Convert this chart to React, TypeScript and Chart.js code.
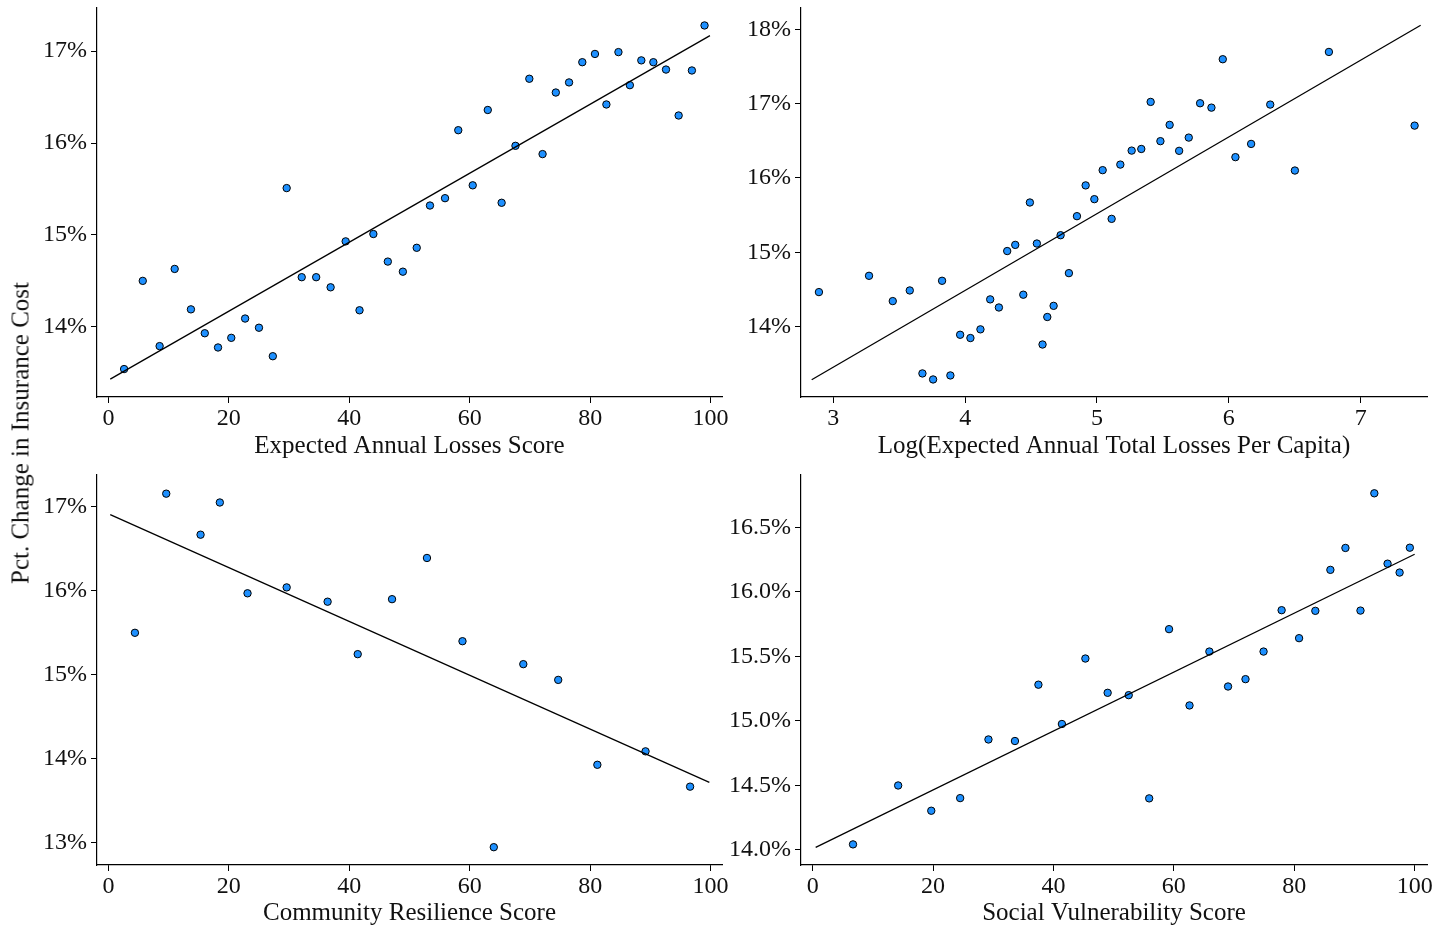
import React, { useEffect, useRef } from 'react';
import { Chart, registerables } from 'chart.js';

Chart.register(...registerables);

const FONT = "'Liberation Serif', 'Times New Roman', serif";
const TEXT_COLOR = '#111111';
const POINT_COLOR = '#1E90FF';

// ---------- Panel 1: Expected Annual Losses Score ----------
const p1X = [2.6, 5.7, 8.5, 11.0, 13.7, 16.0, 18.2, 20.4, 22.7, 25.0, 27.3, 29.6, 32.1, 34.5, 36.9, 39.4, 41.7, 44.0, 46.4, 48.9, 51.2, 53.4, 55.9, 58.1, 60.5, 63.0, 65.3, 67.6, 69.9, 72.1, 74.3, 76.5, 78.7, 80.8, 82.7, 84.7, 86.6, 88.5, 90.5, 92.6, 94.7, 96.9, 99.0];
const p1Y = [13.54, 14.50, 13.79, 14.63, 14.19, 13.93, 13.775, 13.88, 14.09, 13.99, 13.68, 15.51, 14.54, 14.54, 14.43, 14.93, 14.18, 15.01, 14.71, 14.60, 14.86, 15.32, 15.40, 16.14, 15.54, 16.36, 15.35, 15.97, 16.70, 15.88, 16.55, 16.66, 16.88, 16.97, 16.42, 16.99, 16.63, 16.90, 16.88, 16.80, 16.30, 16.79, 17.28];
const p1TrendX = [0.3, 99.9];
const p1TrendY = [13.43, 17.17];
const p1XTicks = [0, 20, 40, 60, 80, 100];
const p1YTicks = [14, 15, 16, 17];

// ---------- Panel 2: Log(Expected Annual Total Losses Per Capita) ----------
const p2X = [2.891, 3.271, 3.451, 3.580, 3.676, 3.757, 3.825, 3.888, 3.962, 4.040, 4.116, 4.190, 4.256, 4.319, 4.380, 4.441, 4.491, 4.544, 4.587, 4.623, 4.671, 4.724, 4.787, 4.848, 4.914, 4.980, 5.043, 5.111, 5.177, 5.263, 5.336, 5.407, 5.481, 5.551, 5.623, 5.696, 5.782, 5.868, 5.954, 6.050, 6.169, 6.314, 6.501, 6.759, 7.409];
const p2Y = [14.465, 14.684, 14.344, 14.487, 13.371, 13.29, 14.617, 13.344, 13.891, 13.847, 13.964, 14.367, 14.258, 15.017, 15.10, 14.43, 15.67, 15.118, 13.76, 14.13, 14.28, 15.23, 14.72, 15.486, 15.90, 15.715, 16.105, 15.45, 16.18, 16.368, 16.39, 17.023, 16.495, 16.714, 16.365, 16.543, 17.005, 16.946, 17.597, 16.28, 16.458, 16.987, 16.10, 17.695, 16.704];
const p2TrendX = [2.836, 7.455];
const p2TrendY = [13.286, 18.054];
const p2XTicks = [3, 4, 5, 6, 7];
const p2YTicks = [14, 15, 16, 17, 18];

// ---------- Panel 3: Community Resilience Score ----------
const p3X = [4.4, 9.6, 15.3, 18.5, 23.1, 29.6, 36.4, 41.4, 47.1, 52.9, 58.8, 64.0, 68.9, 74.7, 81.2, 89.2, 96.6];
const p3Y = [15.50, 17.155, 16.667, 17.05, 15.97, 16.04, 15.87, 15.246, 15.90, 16.39, 15.40, 12.95, 15.127, 14.94, 13.93, 14.09, 13.67];
const p3TrendX = [0.3, 99.8];
const p3TrendY = [16.905, 13.72];
const p3XTicks = [0, 20, 40, 60, 80, 100];
const p3YTicks = [13, 14, 15, 16, 17];

// ---------- Panel 4: Social Vulnerability Score ----------
const p4X = [6.7, 14.2, 19.7, 24.5, 29.2, 33.6, 37.5, 41.4, 45.3, 49.0, 52.5, 55.9, 59.2, 62.6, 65.9, 69.0, 71.9, 74.9, 77.9, 80.8, 83.5, 86.0, 88.5, 91.0, 93.3, 95.5, 97.5, 99.2];
const p4Y = [14.041, 14.498, 14.302, 14.40, 14.855, 14.843, 15.28, 14.975, 15.483, 15.217, 15.199, 14.398, 15.711, 15.119, 15.537, 15.266, 15.323, 15.537, 15.858, 15.641, 15.853, 16.171, 16.341, 15.855, 16.765, 16.219, 16.15, 16.343];
const p4TrendX = [0.5, 100];
const p4TrendY = [14.018, 16.292];
const p4XTicks = [0, 20, 40, 60, 80, 100];
const p4YTicks = [14.0, 14.5, 15.0, 15.5, 16.0, 16.5];

const Y_LABEL = 'Pct. Change in Insurance Cost';

type Panel = {
  title: string;
  xs: number[]; ys: number[]; tx: number[]; ty: number[];
  xTicks: number[]; yTicks: number[]; yDec: number;
  xMin: number; xMax: number; yMin: number; yMax: number;
  left: number; top: number; width: number; height: number;
  padTop: number; padRight: number; yWidth: number; xHeight: number; titlePad: number;
};

const panels: Panel[] = [
  {
    title: 'Expected Annual Losses Score', xs: p1X, ys: p1Y, tx: p1TrendX, ty: p1TrendY,
    xTicks: p1XTicks, yTicks: p1YTicks, yDec: 0,
    xMin: -1.9, xMax: 101.9, yMin: 13.236, yMax: 17.47,
    left: 0, top: 0, width: 745, height: 465, padTop: 8, padRight: 23, yWidth: 97, xHeight: 68, titlePad: 4,
  },
  {
    title: 'Log(Expected Annual Total Losses Per Capita)', xs: p2X, ys: p2Y, tx: p2TrendX, ty: p2TrendY,
    xTicks: p2XTicks, yTicks: p2YTicks, yDec: 0,
    xMin: 2.755, xMax: 7.503, yMin: 13.054, yMax: 18.286,
    left: 725, top: 0, width: 725, height: 465, padTop: 8, padRight: 23, yWidth: 76, xHeight: 68, titlePad: 4,
  },
  {
    title: 'Community Resilience Score', xs: p3X, ys: p3Y, tx: p3TrendX, ty: p3TrendY,
    xTicks: p3XTicks, yTicks: p3YTicks, yDec: 0,
    xMin: -1.9, xMax: 101.9, yMin: 12.738, yMax: 17.377,
    left: 0, top: 465, width: 745, height: 466, padTop: 10, padRight: 23, yWidth: 97, xHeight: 66, titlePad: 3,
  },
  {
    title: 'Social Vulnerability Score', xs: p4X, ys: p4Y, tx: p4TrendX, ty: p4TrendY,
    xTicks: p4XTicks, yTicks: p4YTicks, yDec: 1,
    xMin: -1.94, xMax: 102.05, yMin: 13.881, yMax: 16.907,
    left: 725, top: 465, width: 725, height: 466, padTop: 10, padRight: 23, yWidth: 76, xHeight: 66, titlePad: 3,
  },
];

function PanelChart({ p }: { p: Panel }) {
  const ref = useRef<HTMLCanvasElement | null>(null);
  useEffect(() => {
    if (!ref.current) return;
    const chart = new Chart(ref.current, {
      type: 'scatter',
      data: {
        datasets: [
          {
            type: 'line',
            data: p.tx.map((x, i) => ({ x, y: p.ty[i] })),
            borderColor: '#000000',
            borderWidth: 1.3,
            pointRadius: 0,
            fill: false,
            order: 0,
          } as any,
          {
            type: 'scatter',
            data: p.xs.map((x, i) => ({ x, y: p.ys[i] })),
            backgroundColor: POINT_COLOR,
            borderColor: '#000000',
            borderWidth: 1,
            pointRadius: 3.7,
            order: 1,
          },
        ],
      },
      options: {
        animation: false,
        responsive: false,
        maintainAspectRatio: false,
        devicePixelRatio: 1,
        layout: { padding: { top: p.padTop, right: p.padRight, left: 0, bottom: 0 } },
        plugins: { legend: { display: false }, tooltip: { enabled: false } },
        events: [],
        scales: {
          x: {
            type: 'linear',
            min: p.xMin,
            max: p.xMax,
            afterBuildTicks: (s: any) => { s.ticks = p.xTicks.map((v) => ({ value: v })); },
            afterFit: (s: any) => { s.height = p.xHeight; s.paddingLeft = 0; s.paddingRight = 0; },
            grid: { display: true, drawOnChartArea: false, drawTicks: true, tickLength: 6, tickColor: '#000', tickWidth: 1, color: '#000' },
            border: { display: true, color: '#000', width: 1.2 },
            ticks: { font: { family: FONT, size: 24 }, color: TEXT_COLOR, padding: 1, maxRotation: 0, autoSkip: false, callback: (v: any) => String(v) },
            title: { display: true, text: p.title, font: { family: FONT, size: 25 }, color: TEXT_COLOR, padding: { top: 0, bottom: p.titlePad } },
          },
          y: {
            type: 'linear',
            min: p.yMin,
            max: p.yMax,
            afterBuildTicks: (s: any) => { s.ticks = p.yTicks.map((v) => ({ value: v })); },
            afterFit: (s: any) => { s.width = p.yWidth; s.paddingTop = 0; s.paddingBottom = 0; },
            grid: { display: true, drawOnChartArea: false, drawTicks: true, tickLength: 6, tickColor: '#000', tickWidth: 1, color: '#000' },
            border: { display: true, color: '#000', width: 1.2 },
            ticks: { font: { family: FONT, size: 24 }, color: TEXT_COLOR, padding: 4, autoSkip: false, callback: (v: any) => Number(v).toFixed(p.yDec) + '%' },
          },
        },
      },
    });
    return () => chart.destroy();
  }, [p]);
  return (
    <canvas
      ref={ref}
      width={p.width}
      height={p.height}
      style={{ position: 'absolute', left: p.left, top: p.top, width: p.width, height: p.height }}
    />
  );
}

export default function App() {
  return (
    <div style={{ position: 'fixed', left: 0, top: 0, width: 1450, height: 931, background: '#ffffff', overflow: 'hidden' }}>
      {panels.map((p, i) => (
        <PanelChart key={i} p={p} />
      ))}
      <div
        style={{
          position: 'absolute',
          left: 20,
          top: 433,
          transform: 'translate(-50%, -50%) rotate(-90deg)',
          whiteSpace: 'nowrap',
          fontFamily: FONT,
          fontSize: 25,
          color: TEXT_COLOR,
          lineHeight: 1,
        }}
      >
        {Y_LABEL}
      </div>
    </div>
  );
}
